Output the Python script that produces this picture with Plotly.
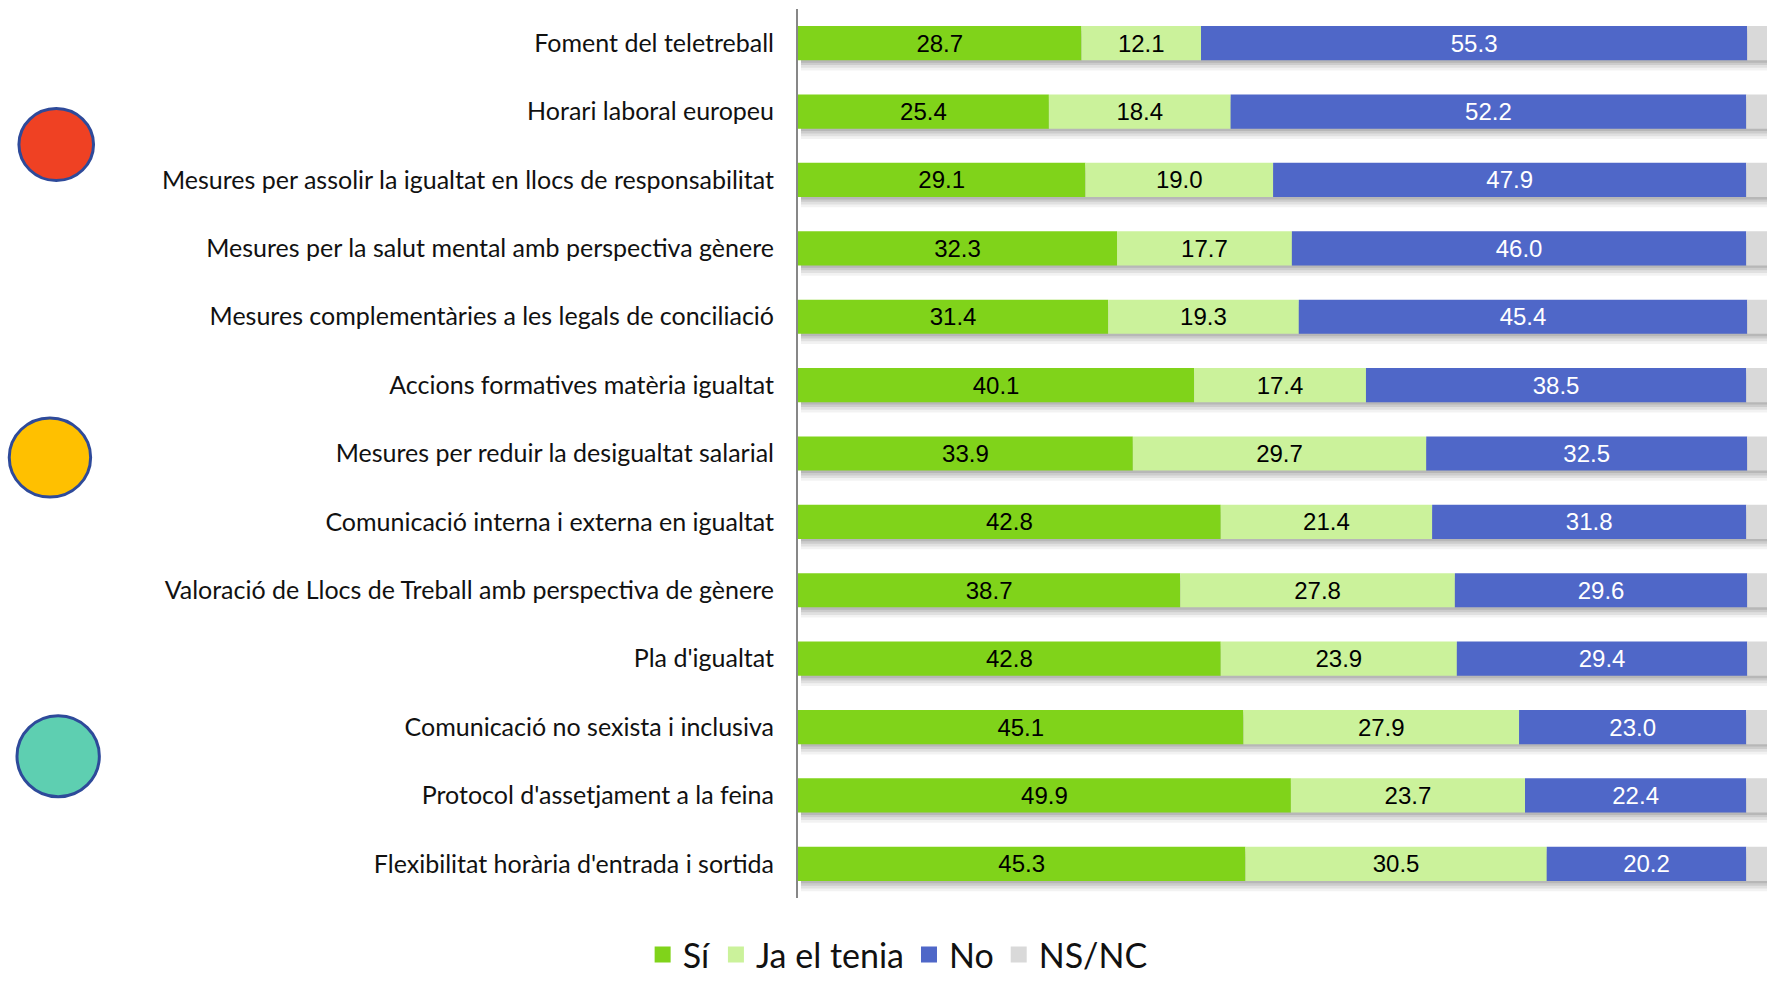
import numpy as np
import plotly.graph_objects as go

# Survey items (top to bottom)
categories = [
    "Foment del teletreball",
    "Horari laboral europeu",
    "Mesures per assolir la igualtat en llocs de responsabilitat",
    "Mesures per la salut mental amb perspectiva gènere",
    "Mesures complementàries a les legals de conciliació",
    "Accions formatives matèria igualtat",
    "Mesures per reduir la desigualtat salarial",
    "Comunicació interna i externa en igualtat",
    "Valoració de Llocs de Treball amb perspectiva de gènere",
    "Pla d'igualtat",
    "Comunicació no sexista i inclusiva",
    "Protocol d'assetjament a la feina",
    "Flexibilitat horària d'entrada i sortida",
]

si = [28.7, 25.4, 29.1, 32.3, 31.4, 40.1, 33.9, 42.8, 38.7, 42.8, 45.1, 49.9, 45.3]
ja_el_tenia = [12.1, 18.4, 19.0, 17.7, 19.3, 17.4, 29.7, 21.4, 27.8, 23.9, 27.9, 23.7, 30.5]
no = [55.3, 52.2, 47.9, 46.0, 45.4, 38.5, 32.5, 31.8, 29.6, 29.4, 23.0, 22.4, 20.2]
ns_nc = [3.9, 4.0, 4.0, 4.0, 3.9, 4.0, 3.9, 4.0, 3.9, 3.9, 4.0, 4.0, 4.0]

series = [
    ("Sí", si, "#80D31A", "#000000", True),
    ("Ja el tenia", ja_el_tenia, "#CBF29B", "#000000", True),
    ("No", no, "#4F67C8", "#FFFFFF", True),
    ("NS/NC", ns_nc, "#D9D9D9", "#000000", False),
]

# Priority markers drawn beside the labels (fill colour, paper-coordinate box)
markers = [
    ("#EF4123", (-0.804, -0.727, 0.807, 0.888)),
    ("#FFC000", (-0.814, -0.730, 0.451, 0.540)),
    ("#5ECFB1", (-0.806, -0.721, 0.114, 0.205)),
]

W, H = 1767, 984
BAR_W = 0.5
LABEL_FONT = "Lato, Open Sans, sans-serif"

fig = go.Figure()

# Soft drop shadow under each full bar
totals = np.array(si) + np.array(ja_el_tenia) + np.array(no) + np.array(ns_nc)
for shift, alpha in [(0.035, 0.10), (0.07, 0.09), (0.11, 0.07), (0.15, 0.05)]:
    fig.add_trace(go.Bar(
        y=categories, x=totals - 0.3, base=0.3, orientation="h",
        width=BAR_W, offset=-BAR_W / 2 + shift,
        marker=dict(color=f"rgba(0,0,0,{alpha})", line=dict(width=0)),
        showlegend=False, hoverinfo="skip",
    ))

cum = np.zeros(len(categories))
for name, vals, color, txtcol, labelled in series:
    vals = np.array(vals)
    fig.add_trace(go.Bar(
        name=name, y=categories, x=vals, base=cum.copy(), orientation="h",
        width=BAR_W, offset=-BAR_W / 2,
        marker=dict(color=color, line=dict(width=0)),
        text=[f"{v:.1f}" for v in vals] if labelled else None,
        textposition="inside" if labelled else "none",
        insidetextanchor="middle",
        textangle=0,
        textfont=dict(family="Liberation Sans, Arial, sans-serif", size=24, color=txtcol),
        showlegend=False, legendgroup=name,
    ))
    # legend entry with a larger square swatch
    fig.add_trace(go.Scatter(
        name=name, x=[None], y=[None], mode="markers",
        marker=dict(symbol="square", size=16, color=color),
        showlegend=True, legendgroup=name, hoverinfo="skip",
    ))
    cum = cum + vals

for fill, (x0, x1, y0, y1) in markers:
    fig.add_shape(type="circle", xref="paper", yref="paper",
                  x0=x0, x1=x1, y0=y0, y1=y1,
                  fillcolor=fill, line=dict(color="#2E4A9A", width=3), layer="above")

fig.update_layout(
    width=W, height=H,
    barmode="overlay",
    plot_bgcolor="white", paper_bgcolor="white",
    margin=dict(l=798, r=0, t=9, b=86),
    uniformtext=dict(minsize=10, mode="show"),
    xaxis=dict(range=[0, 98.1], visible=False, fixedrange=True),
    yaxis=dict(
        categoryorder="array", categoryarray=categories,
        autorange="reversed",
        showline=True, linecolor="#878787", linewidth=2,
        showgrid=False, zeroline=False, ticks="",
        ticklabelstandoff=17,
        tickfont=dict(family=LABEL_FONT, size=25, color="#111111"),
    ),
    legend=dict(
        orientation="h", xref="container", yref="container",
        x=0.508, xanchor="center", y=0.0, yanchor="bottom",
        font=dict(family=LABEL_FONT, size=34, color="#111111"),
        traceorder="normal", itemsizing="trace",
    ),
    showlegend=True,
)

fig.write_html("out.html")
